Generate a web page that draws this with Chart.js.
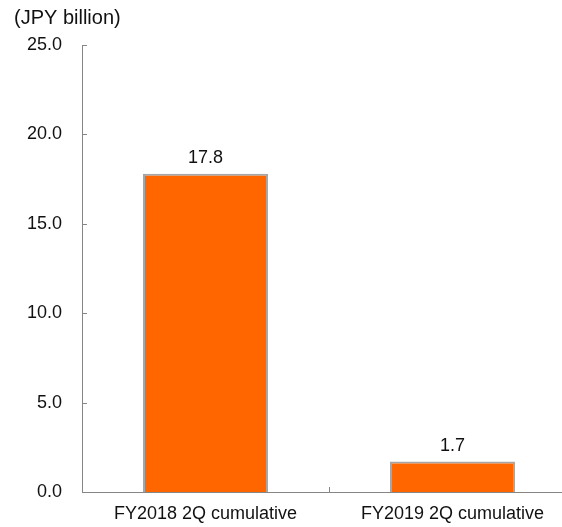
<!DOCTYPE html>
<html>
<head>
<meta charset="utf-8">
<script src="https://cdn.jsdelivr.net/npm/chart.js@4"></script>
<style>
  html, body { margin: 0; padding: 0; background: #fff; overflow: hidden; }
  #wrap { width: 576px; height: 527px; }
</style>
</head>
<body>
<div id="wrap"><canvas id="grafico" width="576" height="527"></canvas></div>
<script>
const categorias = ['FY2018 2Q cumulative', 'FY2019 2Q cumulative'];
const valores = [17.8, 1.7];
const unidade = '(JPY billion)';
const eixoMin = 0;
const eixoMax = 25;
const passo = 5;

const corBarra = '#ff6600';
const corBorda = '#a6a6a6';
const corEixo = '#868686';
const fonte = '"Liberation Sans", Arial, sans-serif';

// marcas internas, titulo e rotulos de valor
const extras = {
    id: 'extras',
    afterDraw(chart) {
        const ctx = chart.ctx;
        const x = chart.scales.x;
        const y = chart.scales.y;
        const area = chart.chartArea;
        ctx.save();
        ctx.strokeStyle = corEixo;
        ctx.lineWidth = 1;
        // ticks do eixo y apontando para dentro
        for (let v = eixoMin; v <= eixoMax; v += passo) {
            const py = Math.round(y.getPixelForValue(v)) + 0.5;
            ctx.beginPath();
            ctx.moveTo(area.left, py);
            ctx.lineTo(area.left + 5, py);
            ctx.stroke();
        }
        // tick entre categorias
        for (let i = 1; i < categorias.length; i++) {
            const px = Math.round((x.getPixelForValue(i - 1) + x.getPixelForValue(i)) / 2) + 0.5;
            ctx.beginPath();
            ctx.moveTo(px, area.bottom);
            ctx.lineTo(px, area.bottom - 5);
            ctx.stroke();
        }
        // titulo da unidade
        ctx.fillStyle = '#111';
        ctx.font = '20px ' + fonte;
        ctx.textAlign = 'left';
        ctx.textBaseline = 'alphabetic';
        ctx.fillText(unidade, 14, 24);
        // valores acima das barras
        ctx.font = '18px ' + fonte;
        ctx.textAlign = 'center';
        const meta = chart.getDatasetMeta(0);
        meta.data.forEach((bar, i) => {
            ctx.fillText(valores[i].toFixed(1), bar.x, bar.y - 11);
        });
        ctx.restore();
    }
};

const ctx = document.getElementById('grafico').getContext('2d');
const grafico = new Chart(ctx, {
    type: 'bar',
    data: {
        labels: categorias,
        datasets: [{
            label: 'Valor',
            data: valores,
            backgroundColor: corBarra,
            borderColor: corBorda,
            borderWidth: { top: 2, left: 2, right: 2, bottom: 0 },
            borderSkipped: 'bottom',
            categoryPercentage: 1,
            barPercentage: 0.506
        }]
    },
    options: {
        responsive: false,
        animation: false,
        layout: { padding: { top: 45, right: 0, left: 0, bottom: 0 } },
        plugins: {
            legend: { display: false },
            tooltip: { enabled: false }
        },
        scales: {
            x: {
                grid: { display: false, drawTicks: false },
                border: { display: true, color: corEixo, width: 1 },
                ticks: {
                    color: '#111',
                    font: { family: fonte, size: 18 },
                    padding: 11,
                    maxRotation: 0
                },
                afterFit(scale) { scale.height = 35; }
            },
            y: {
                min: eixoMin,
                max: eixoMax,
                grid: { display: false, drawTicks: false },
                border: { display: true, color: corEixo, width: 1 },
                ticks: {
                    stepSize: passo,
                    color: '#111',
                    font: { family: fonte, size: 18 },
                    padding: 20,
                    callback: (v) => Number(v).toFixed(1)
                },
                afterFit(scale) { scale.width = 82; }
            }
        }
    },
    plugins: [extras]
});
</script>
</body>
</html>
